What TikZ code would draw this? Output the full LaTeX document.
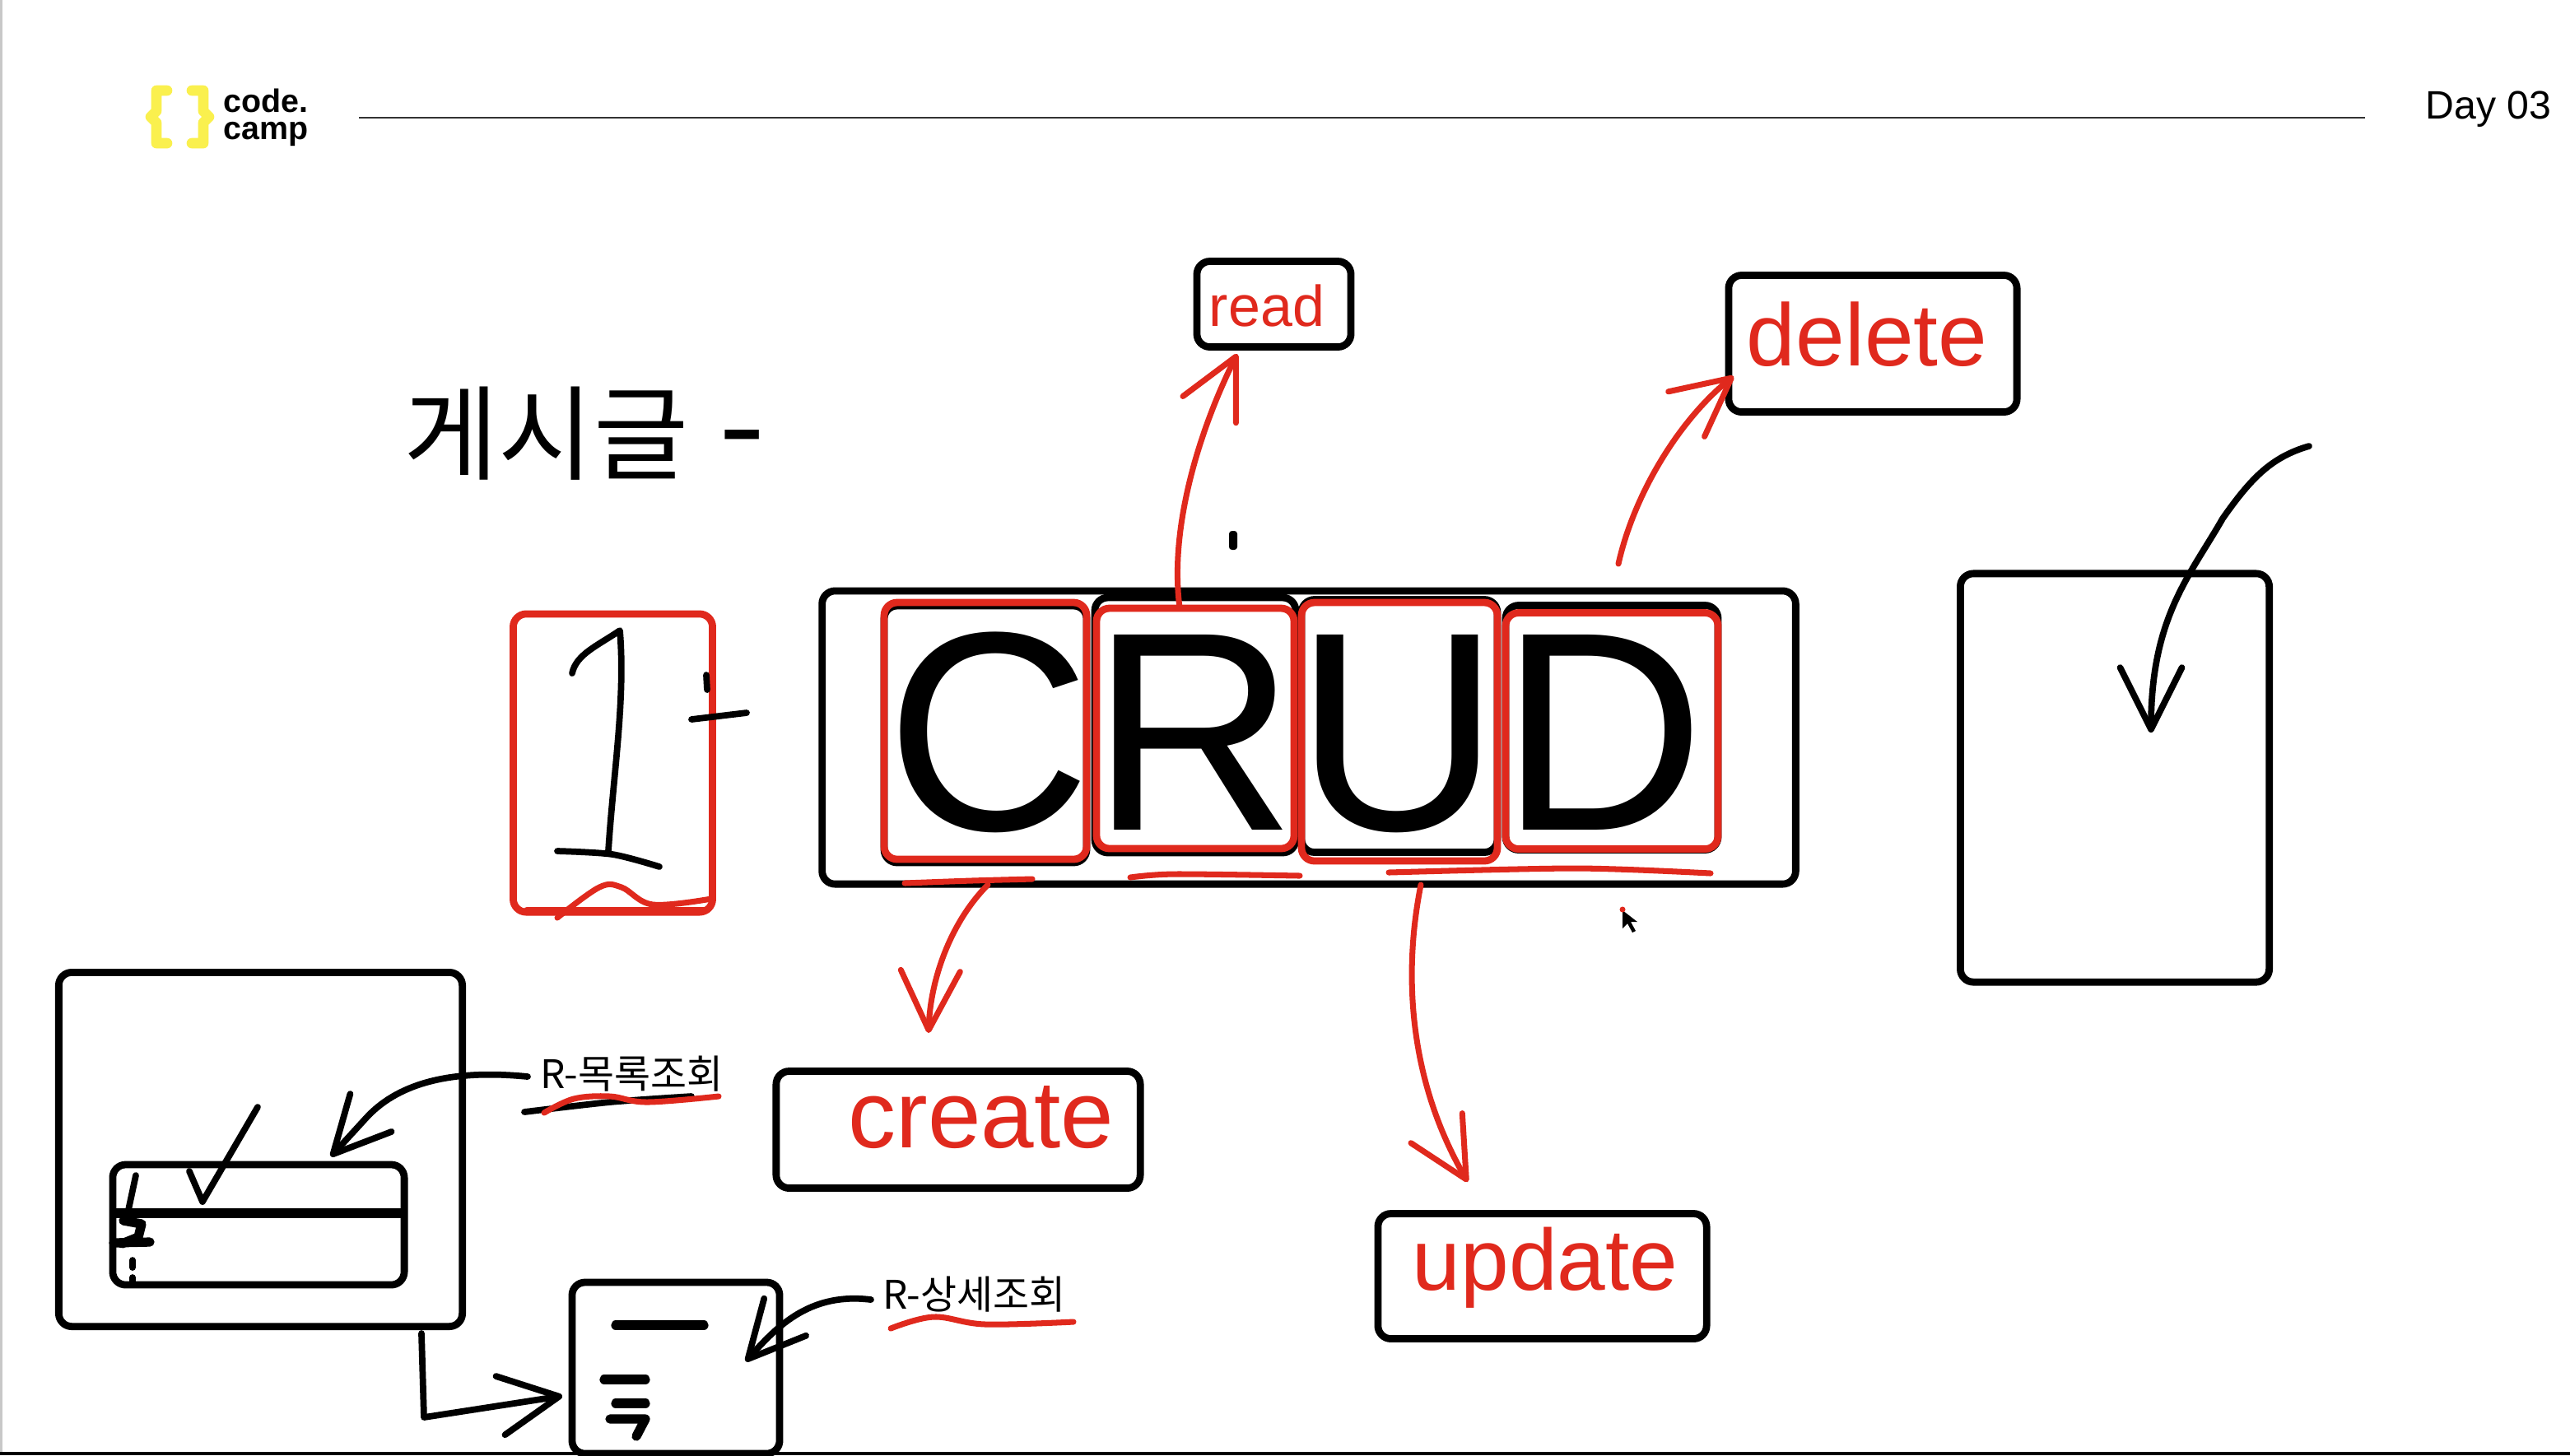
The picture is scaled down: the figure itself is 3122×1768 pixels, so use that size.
\documentclass[tikz,border=0pt]{standalone}
\usepackage{fontspec}
\setmainfont{Liberation Sans}
\newfontfamily\crudKr{Noto Sans CJK KR}
\usetikzlibrary{arrows.meta}
\definecolor{crudRed}{HTML}{E0291D}
\definecolor{crudYellow}{HTML}{FAF04E}
\definecolor{crudEdge}{HTML}{C8C8C8}
\tikzset{
  crud box/.style={draw=black, line width=2.5pt, rounded corners=4.5pt, inner sep=0pt, outer sep=0pt},
  crud redbox/.style={crud box, draw=crudRed},
  crud ink/.style={draw=black, line width=2.2pt, line cap=round, line join=round},
  crud fat/.style={draw=black, line width=3.2pt, line cap=round, line join=round},
  crud pen/.style={draw=crudRed, line width=2pt, line cap=round, line join=round},
  crud word/.style={anchor=base, inner sep=0pt, text=crudRed},
  crud note/.style={anchor=base west, inner sep=0pt, font=\crudKr\fontsize{13.6}{15}\selectfont},
  crud tip/.style={-{Straight Barb[round, length=#1, width=#1]}},
}
\begin{document}
\begin{tikzpicture}[x=0.01cm, y=-0.01cm]
  \useasboundingbox (0,0) rectangle (3122,1768);
  \fill[white] (0,0) rectangle (3122,1768);
  \fill[crudEdge] (0,0) rectangle (3,1764);
  \fill[black] (0,1764) rectangle (3122,1768);
  % Header with logo and day
  \draw[crudYellow, line width=3.6pt, line join=round, line cap=round] (203,110) -- (190,110) -- (190,135) -- (183,142) -- (190,149) -- (190,174) -- (203,174);
  \draw[crudYellow, line width=3.6pt, line join=round, line cap=round] (233,110) -- (247,110) -- (247,135) -- (254,142) -- (247,149) -- (247,174) -- (233,174);
  \node[anchor=north west, inner sep=0pt, align=left, font=\bfseries\fontsize{11.2}{9.4}\selectfont] (logoWord) at (271,107) {code.\\camp};
  \draw[black!80, line width=0.6pt] (436,143) -- (2873,143);
  \node[anchor=base east, inner sep=0pt, font=\fontsize{13.7}{15}\selectfont] (dayLabel) at (3100,144) {Day 03};
  % Title
  \node[anchor=base west, inner sep=0pt, font=\crudKr\fontsize{35.6}{38}\selectfont] (postTitle) at (490,573) {게시글\hspace{10.5pt}{\fontsize{46}{46}\selectfont -}};
  % CRUD block
  \node[crud box, minimum width=11.82cm, minimum height=3.56cm] (crudOuter) at (1590,896) {};
  \node[anchor=base, inner sep=0pt, font=\fontsize{98}{100}\selectfont] (crudWord) at (1574,1008) {CRUD};
  \foreach \nm/\cx/\cy/\w/\h in {C/1197/892/246/312, R/1452/881/244/310, U/1700/882/238/307, D/1958/884/258/297}
    \node[crud box, minimum width=\w*0.01cm, minimum height=\h*0.01cm] (ink\nm) at (\cx,\cy) {};
  \foreach \nm/\cx/\cy/\w/\h in {C/1197/888/246/312, R/1452/885/240/292, U/1700/889/238/314, D/1958/888/258/287}
    \node[crud redbox, minimum width=\w*0.01cm, minimum height=\h*0.01cm] (red\nm) at (\cx,\cy) {};
  \draw[crud pen] plot[smooth] coordinates {(1099,1073) (1180,1070) (1254,1068)};
  \draw[crud pen] plot[smooth] coordinates {(1373,1066) (1427,1062) (1579,1064)};
  \draw[crud pen] plot[smooth] coordinates {(1687,1060) (1915,1055) (2078,1061)};
  % Number one with plus
  \node[crud redbox, minimum width=2.42cm, minimum height=3.62cm] (oneBox) at (744.5,927) {};
  \draw[crud ink] (695,818) .. controls (700,795) and (725,785) .. (753,766) .. controls (760,850) and (745,940) .. (739,1034);
  \draw[crud ink] plot[smooth] coordinates {(677,1034) (744,1038) (801,1053)};
  \draw[crud ink] (858,820) -- (859,838);
  \draw[crud ink] (840,874) -- (907,866);
  \draw[crud pen] plot[smooth, tension=.6] coordinates {(677,1115) (728,1078) (755,1078) (793,1099) (864,1092)};
  \draw[crud pen] (640,1105) -- (860,1105);
  % Four words and their arrows
  \node[crud box, minimum width=1.87cm, minimum height=1.04cm] (readBox) at (1547.5,369.5) {};
  \node[crud word, font=\fontsize{19.9}{22}\selectfont] (readWord) at (1539,396) {read};
  \node[crud box, minimum width=3.5cm, minimum height=1.66cm] (deleteBox) at (2275,417.5) {};
  \node[crud word, font=\fontsize{30.5}{32}\selectfont] (deleteWord) at (2268,444) {delete};
  \node[crud box, minimum width=4.42cm, minimum height=1.42cm] (createBox) at (1164,1372.5) {};
  \node[crud word, font=\fontsize{33}{35}\selectfont] (createWord) at (1192,1394) {create};
  \node[crud box, minimum width=3.99cm, minimum height=1.52cm] (updateBox) at (1873.5,1550.5) {};
  \node[crud word, font=\fontsize{30}{32}\selectfont] (updateWord) at (1877,1567) {update};
  \coordinate (readFrom) at (1433,738);
  \coordinate (readTip) at (1503,430);
  \coordinate (deleteFrom) at (1966,685);
  \coordinate (deleteTip) at (2106,457);
  \coordinate (createFrom) at (1200,1075);
  \coordinate (createTip) at (1128,1255);
  \coordinate (updateFrom) at (1726,1075);
  \coordinate (updateTip) at (1783,1436);
  \draw[crud pen, crud tip=0.72cm] (readFrom) .. controls (1420,640) and (1458,520) .. (readTip);
  \draw[crud pen, crud tip=0.7cm] (deleteFrom) .. controls (1985,600) and (2040,510) .. (deleteTip);
  \draw[crud pen, crud tip=0.72cm] (createFrom) .. controls (1155,1120) and (1130,1190) .. (createTip);
  \draw[crud pen, crud tip=0.72cm] (updateFrom) .. controls (1705,1180) and (1710,1310) .. (updateTip);
  \fill[black, rounded corners=1pt] (1493,645) rectangle (1503,668);
  % Mouse pointer
  \fill[black] (1971,1106) -- (1971,1128) -- (1977,1122) -- (1983,1133) -- (1987,1131) -- (1981,1120) -- (1989,1120) -- cycle;
  \fill[crudRed] (1971,1105) circle (1pt);
  % Empty page on the right
  \node[crud box, minimum width=3.75cm, minimum height=4.96cm] (pageBox) at (2569,945) {};
  \coordinate (pageFrom) at (2805,542);
  \coordinate (pageTip) at (2613,890);
  \draw[crud ink, crud tip=0.75cm] (pageFrom) .. controls (2760,555) and (2735,580) .. (2700,630) .. controls (2660,700) and (2613,750) .. (pageTip);
  % List page
  \node[crud box, minimum width=4.9cm, minimum height=4.3cm] (listPage) at (316.5,1396.5) {};
  \node[crud box, minimum width=3.54cm, minimum height=1.46cm] (listRows) at (314,1488) {};
  \draw[black, line width=3.4pt] (listRows.west |- 0,1474) -- (listRows.east |- 0,1474);
  \draw[crud ink] (313,1345) -- (246,1460) -- (230,1423);
  \draw[crud ink] (165,1428) -- (156,1470);
  \draw[crud fat] (150,1483) -- (172,1487) -- (168,1503) -- (148,1511);
  \draw[crud fat] (138,1510) -- (182,1509);
  \draw[crud ink] (161,1531) -- (161,1540);
  \draw[crud ink] (161,1552) -- (161,1558);
  \node[crud note] (listNote) at (656,1322) {R-목록조회};
  \coordinate (listFrom) at (641,1308);
  \coordinate (listTip) at (402,1405);
  \draw[crud ink, crud tip=0.68cm] (listFrom) .. controls (540,1298) and (480,1320) .. (445,1358) -- (listTip);
  \draw[crud ink] plot[smooth] coordinates {(637,1351) (741,1339) (840,1332)};
  \draw[crud pen] plot[smooth, tension=.6] coordinates {(661,1352) (697,1335) (741,1332) (786,1339) (873,1332)};
  % Detail page
  \node[crud box, minimum width=2.52cm, minimum height=2.08cm] (detailPage) at (821,1662) {};
  \draw[crud fat] (748,1610) -- (855,1610);
  \draw[crud fat] (734,1676) -- (784,1676);
  \draw[crud fat] (748,1705) -- (784,1705);
  \draw[crud fat] (741,1724) -- (784,1724) -- (773,1745);
  \node[crud note] (detailNote) at (1072,1590) {R-상세조회};
  \coordinate (detailFrom) at (1058,1579);
  \coordinate (detailTip) at (906,1654);
  \draw[crud ink, crud tip=0.68cm] (detailFrom) .. controls (985,1570) and (945,1610) .. (detailTip);
  \draw[crud pen] plot[smooth, tension=.6] coordinates {(1082,1614) (1134,1600) (1197,1609) (1304,1606)};
  % From list to detail
  \coordinate (flowFrom) at (512,1620);
  \coordinate (flowTip) at (683,1696);
  \draw[crud ink, crud tip=0.72cm] (flowFrom) -- (515,1722) -- (flowTip);
\end{tikzpicture}
\end{document}
